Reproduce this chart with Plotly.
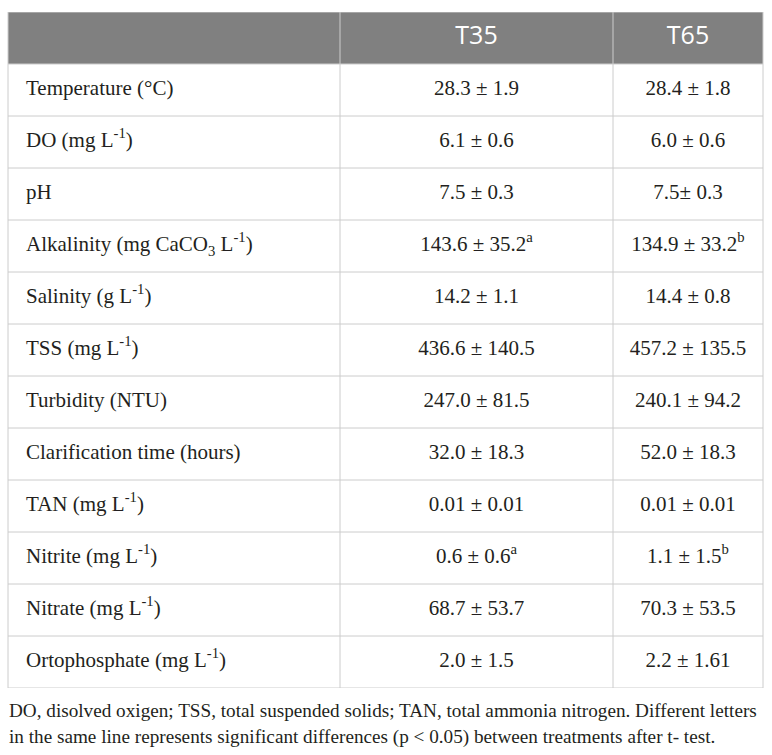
import plotly.graph_objects as go

# table contents
columns = ["", "T35", "T65"]
variables = [
    "Temperature (°C)",
    "DO (mg L<sup>-1</sup>)",
    "pH",
    "Alkalinity (mg CaCO<sub>3</sub> L<sup>-1</sup>)",
    "Salinity (g L<sup>-1</sup>)",
    "TSS (mg L<sup>-1</sup>)",
    "Turbidity (NTU)",
    "Clarification time (hours)",
    "TAN (mg L<sup>-1</sup>)",
    "Nitrite (mg L<sup>-1</sup>)",
    "Nitrate (mg L<sup>-1</sup>)",
    "Ortophosphate (mg L<sup>-1</sup>)",
]
t35 = [
    "28.3 ± 1.9", "6.1 ± 0.6", "7.5 ± 0.3", "143.6 ± 35.2<sup>a</sup>",
    "14.2 ± 1.1", "436.6 ± 140.5", "247.0 ± 81.5", "32.0 ± 18.3",
    "0.01 ± 0.01", "0.6 ± 0.6<sup>a</sup>", "68.7 ± 53.7", "2.0 ± 1.5",
]
t65 = [
    "28.4 ± 1.8", "6.0 ± 0.6", "7.5± 0.3", "134.9 ± 33.2<sup>b</sup>",
    "14.4 ± 0.8", "457.2 ± 135.5", "240.1 ± 94.2", "52.0 ± 18.3",
    "0.01 ± 0.01", "1.1 ± 1.5<sup>b</sup>", "70.3 ± 53.5", "2.2 ± 1.61",
]
caption = [
    "DO, disolved oxigen; TSS, total suspended solids; TAN, total ammonia nitrogen. Different letters",
    "in the same line represents significant differences (p &lt; 0.05) between treatments after t- test.",
]

W, H = 772, 755
col_edges = [8, 340, 613, 763]      # pixel x of the vertical rules
tab_top, tab_bot = 12, 688          # pixel y of the table box
line_col = "#cccccc"
text_col = "#231f20"
serif = "Liberation Serif, Times New Roman, serif"
sans = "Open Sans, Noto Sans, sans-serif"

n = len(variables)
rows = list(range(1, n + 1))        # header sits on row 0
centers = [(col_edges[i] + col_edges[i + 1]) / 2 for i in range(3)]

fig = go.Figure()

# header labels
fig.add_trace(go.Scatter(
    x=centers[1:], y=[0, 0], text=columns[1:], mode="text",
    textposition="middle center", hoverinfo="skip",
    textfont=dict(family=sans, size=25, color="white"),
))
# row labels
fig.add_trace(go.Scatter(
    x=[col_edges[0] + 18] * n, y=rows, text=variables, mode="text",
    textposition="middle right", hoverinfo="skip",
    textfont=dict(family=serif, size=21, color=text_col),
))
# treatment values
for c, vals in zip(centers[1:], [t35, t65]):
    fig.add_trace(go.Scatter(
        x=[c] * n, y=rows, text=vals, mode="text",
        textposition="middle center", hoverinfo="skip",
        textfont=dict(family=serif, size=21, color=text_col),
    ))

# header band
fig.add_shape(type="rect", x0=col_edges[0], x1=col_edges[-1], y0=-0.5, y1=0.5,
              fillcolor="#808080", line_width=0, layer="below")
# horizontal rules
for r in range(n + 2):
    fig.add_shape(type="line", x0=col_edges[0], x1=col_edges[-1], y0=r - 0.5, y1=r - 0.5,
                  line=dict(color=line_col, width=1), layer="above")
# vertical rules
for x in col_edges:
    fig.add_shape(type="line", x0=x, x1=x, y0=-0.5, y1=n + 0.5,
                  line=dict(color=line_col, width=1), layer="above")

# caption below the table
for i, line in enumerate(caption):
    fig.add_annotation(
        text=line, xref="x", yref="paper",
        x=col_edges[0] - 1, y=1 - (710 + 27 * i) / H, xanchor="left", yanchor="middle",
        showarrow=False, font=dict(family=serif, size=19.2, color=text_col),
    )

fig.update_xaxes(range=[0, W], domain=[0, 1], visible=False, fixedrange=True)
fig.update_yaxes(range=[n + 0.5, -0.5], domain=[1 - tab_bot / H, 1 - tab_top / H],
                 visible=False, fixedrange=True)
fig.update_layout(
    width=W, height=H,
    margin=dict(l=0, r=0, t=0, b=0),
    paper_bgcolor="white", plot_bgcolor="white",
    showlegend=False,
)
# drop the default page margin so the figure sits at the window origin
fig.write_html("out.html", config={"displayModeBar": False},
               post_script="document.body.style.margin = '0px';")
